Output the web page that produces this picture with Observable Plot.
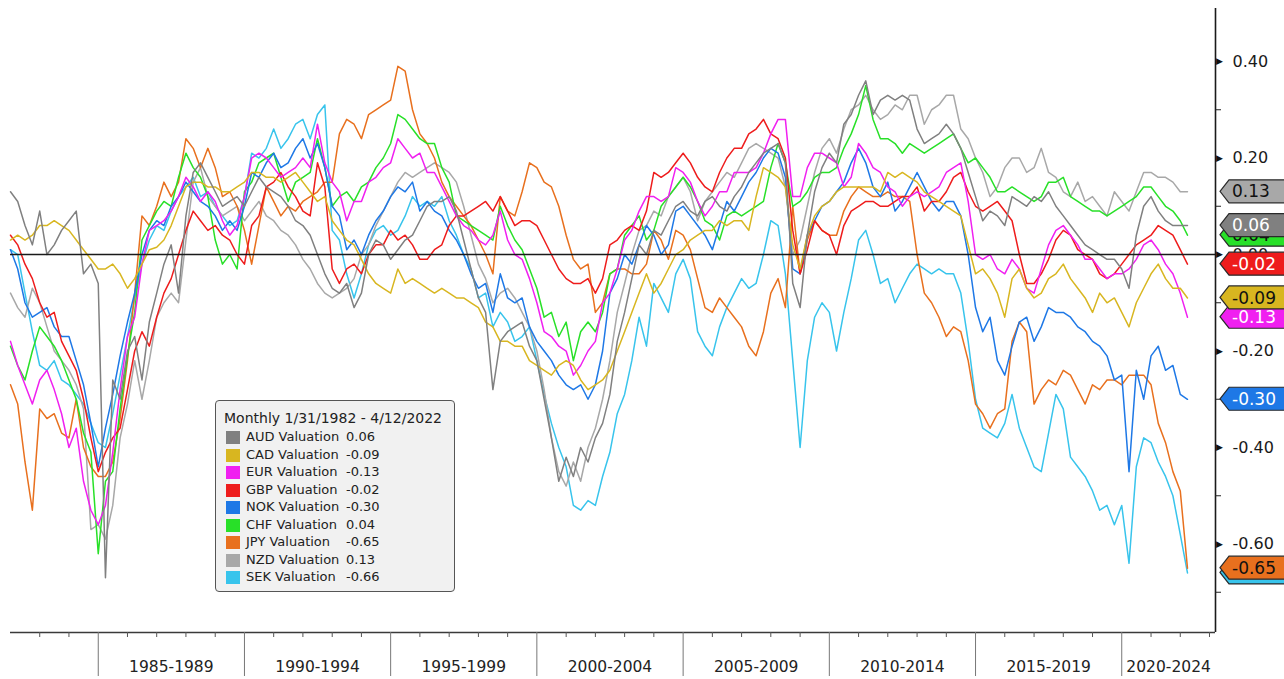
<!DOCTYPE html>
<html>
<head>
<meta charset="utf-8">
<script src="https://cdn.jsdelivr.net/npm/d3@7"></script>
<script src="https://cdn.jsdelivr.net/npm/@observablehq/plot@0.6"></script>
<style>
  html, body { margin: 0; padding: 0; background: #ffffff; }
  #wrap { position: relative; width: 1284px; height: 679px; overflow: hidden; }
  #legend { position: absolute; left: 215px; top: 400px; width: 238px; height: 190px;
    background: #f1f1f1; border: 1.5px solid #555; border-radius: 4px;
    font-family: "DejaVu Sans", sans-serif; font-size: 13px; color: #222; }
  #legend .title { position: absolute; left: 8px; top: 9px; white-space: nowrap; font-size: 14px; }
  #legend .row { position: absolute; left: 10px; height: 16px; white-space: nowrap; }
  #legend .sw { position: absolute; left: 0; top: 1px; width: 14px; height: 13px; }
  #legend .nm { position: absolute; left: 20px; top: -1px; }
  #legend .vl { position: absolute; left: 120px; top: -1px; }
</style>
</head>
<body>
<div id="wrap"></div>
<script>
// ---------- data ----------
const currencies = ["AUD", "CAD", "EUR", "GBP", "NOK", "CHF", "JPY", "NZD", "SEK"];
const seriesColors = ["#808080", "#d8b620", "#f020f0", "#ee1c1c", "#1e78e6", "#28e028", "#e8701e", "#a8a8a8", "#38c4ec"];
const tagTextColors = ["#ffffff", "#111111", "#ffffff", "#ffffff", "#ffffff", "#111111", "#111111", "#111111", "#111111"];
const lastValues = [0.06, -0.09, -0.13, -0.02, -0.30, 0.04, -0.65, 0.13, -0.66];
const legendTitle = "Monthly 1/31/1982 - 4/12/2022";
const firstQuarter = [1982, 0]; // quarterly samples starting Jan 1982
const majorTicks = [0.40, 0.20, 0.00, -0.20, -0.40, -0.60];
const minorTicks = [0.30, 0.10, -0.10, -0.30, -0.50, -0.70];
const groupStarts = [1985, 1990, 1995, 2000, 2005, 2010, 2015, 2020];
const groupLabels = ["1985-1989", "1990-1994", "1995-1999", "2000-2004", "2005-2009", "2010-2014", "2015-2019", "2020-2024"];

const aud = [
  0.13,0.11,0.06,0.02,0.09,0.00,0.02,0.05,
  0.07,0.09,-0.04,-0.02,-0.06,-0.67,-0.26,-0.30,
  -0.20,-0.17,-0.26,-0.14,-0.08,-0.02,0.02,-0.08,
  0.08,0.17,0.19,0.16,0.13,0.10,0.11,0.12,
  0.10,0.13,0.16,0.14,0.13,0.12,0.10,0.07,
  0.06,0.04,0.00,-0.04,-0.07,-0.08,-0.06,-0.11,
  -0.08,0.00,0.03,0.02,-0.01,0.01,0.03,0.04,
  0.07,0.10,0.11,0.11,0.12,0.09,0.03,-0.03,
  -0.09,-0.12,-0.28,-0.18,-0.16,-0.15,-0.14,-0.19,
  -0.22,-0.30,-0.38,-0.47,-0.42,-0.46,-0.40,-0.43,
  -0.38,-0.35,-0.29,-0.18,-0.12,-0.05,0.02,0.00,
  0.05,0.04,0.07,0.10,0.11,0.09,0.08,0.11,
  0.12,0.10,0.09,0.12,0.14,0.17,0.19,0.21,
  0.22,0.23,0.19,-0.06,-0.11,0.04,0.13,0.18,
  0.21,0.19,0.27,0.29,0.33,0.36,0.29,0.32,
  0.33,0.32,0.33,0.32,0.26,0.23,0.24,0.25,
  0.27,0.25,0.22,0.17,0.12,0.07,0.09,0.08,
  0.06,0.12,0.11,0.10,0.12,0.11,0.13,0.10,
  0.08,0.06,0.04,0.02,0.01,0.00,-0.01,-0.01,
  -0.03,-0.07,0.04,0.10,0.12,0.09,0.07,0.06,
  0.06,0.06];

const cad = [
  0.03,0.04,0.03,0.04,0.06,0.06,0.07,0.06,
  0.05,0.03,0.01,-0.01,-0.03,-0.03,-0.02,-0.04,
  -0.07,-0.05,-0.02,0.01,0.015,0.03,0.06,0.10,
  0.14,0.15,0.15,0.14,0.14,0.13,0.13,0.14,
  0.15,0.17,0.17,0.16,0.16,0.15,0.16,0.17,
  0.15,0.13,0.11,0.12,0.07,0.05,0.03,0.02,
  -0.01,-0.04,-0.06,-0.07,-0.08,-0.03,-0.06,-0.05,
  -0.06,-0.07,-0.08,-0.07,-0.08,-0.09,-0.09,-0.10,
  -0.11,-0.14,-0.15,-0.18,-0.18,-0.19,-0.19,-0.22,
  -0.23,-0.24,-0.25,-0.23,-0.22,-0.23,-0.26,-0.28,
  -0.27,-0.26,-0.24,-0.20,-0.16,-0.12,-0.08,-0.04,
  -0.08,-0.06,-0.03,0.00,0.01,0.03,0.04,0.05,
  0.05,0.07,0.06,0.07,0.07,0.05,0.12,0.18,
  0.17,0.16,0.14,0.02,-0.03,0.04,0.08,0.10,
  0.11,0.13,0.14,0.14,0.14,0.14,0.14,0.13,
  0.17,0.16,0.17,0.16,0.15,0.13,0.12,0.11,
  0.10,0.09,0.08,0.02,-0.04,-0.03,-0.05,-0.08,
  -0.13,-0.05,-0.03,-0.07,-0.09,-0.08,-0.05,-0.04,
  -0.02,-0.05,-0.07,-0.09,-0.12,-0.08,-0.10,-0.09,
  -0.12,-0.15,-0.10,-0.07,-0.04,-0.02,-0.05,-0.07,
  -0.07,-0.09];

const eur = [
  -0.18,-0.23,-0.27,-0.31,-0.26,-0.24,-0.28,-0.33,
  -0.40,-0.36,-0.47,-0.53,-0.56,-0.52,-0.41,-0.28,
  -0.17,-0.13,-0.02,0.05,0.06,0.07,0.09,0.12,
  0.16,0.14,0.11,0.13,0.11,0.07,0.04,0.06,
  0.12,0.20,0.21,0.20,0.18,0.16,0.17,0.18,
  0.20,0.18,0.27,0.19,0.15,0.13,0.07,0.11,
  0.11,0.15,0.16,0.18,0.19,0.24,0.22,0.20,
  0.21,0.17,0.17,0.14,0.11,0.08,0.06,0.05,
  0.03,0.02,0.04,0.09,0.03,0.00,-0.01,-0.05,
  -0.10,-0.16,-0.17,-0.19,-0.20,-0.25,-0.23,-0.20,
  -0.18,-0.10,-0.08,-0.03,0.03,0.05,0.09,0.12,
  0.12,0.11,0.12,0.18,0.17,0.15,0.11,0.08,
  0.10,0.13,0.13,0.17,0.17,0.17,0.18,0.21,
  0.25,0.28,0.28,0.12,0.12,0.18,0.21,0.21,
  0.20,0.19,0.14,0.16,0.23,0.21,0.18,0.17,
  0.14,0.13,0.10,0.12,0.13,0.12,0.13,0.14,
  0.17,0.18,0.19,0.11,0.00,-0.01,0.00,-0.03,
  -0.04,-0.01,-0.03,-0.07,-0.08,-0.03,0.02,0.05,
  0.06,0.04,0.02,-0.01,-0.01,-0.03,-0.05,-0.04,
  -0.04,-0.03,-0.01,0.02,0.03,0.01,-0.02,-0.04,
  -0.08,-0.13];

const gbp = [
  0.04,0.02,-0.02,-0.05,-0.10,-0.13,-0.12,-0.18,
  -0.21,-0.24,-0.30,-0.38,-0.45,-0.41,-0.38,-0.36,
  -0.28,-0.20,-0.16,-0.19,-0.13,-0.08,-0.05,0.00,
  0.05,0.09,0.07,0.05,0.06,0.04,0.03,0.00,
  -0.02,0.06,0.08,0.14,0.15,0.17,0.14,0.12,
  0.09,0.08,0.19,0.14,-0.03,-0.06,-0.03,-0.02,
  -0.04,0.00,0.02,0.02,0.05,0.03,0.04,0.02,
  -0.01,-0.01,0.01,0.02,0.06,0.08,0.08,0.09,
  0.10,0.11,0.09,0.12,0.09,0.06,0.07,0.07,
  0.06,0.03,0.00,-0.03,-0.05,-0.06,-0.06,-0.05,
  -0.08,-0.05,0.02,0.03,0.05,0.06,0.05,0.09,
  0.17,0.16,0.17,0.19,0.21,0.19,0.16,0.14,
  0.13,0.17,0.20,0.22,0.22,0.25,0.26,0.28,
  0.25,0.24,0.20,0.05,-0.04,0.01,0.07,0.05,
  0.04,0.00,0.06,0.09,0.10,0.11,0.11,0.10,
  0.10,0.11,0.12,0.12,0.14,0.09,0.11,0.11,
  0.13,0.16,0.17,0.13,0.10,0.09,0.10,0.11,
  0.09,0.07,0.00,-0.06,-0.06,-0.04,-0.01,0.03,
  0.05,0.04,0.01,0.00,-0.01,-0.04,-0.05,-0.04,
  -0.02,0.00,0.02,0.03,0.04,0.06,0.05,0.04,
  0.01,-0.02];

const nok = [
  0.01,-0.03,-0.10,-0.13,-0.12,-0.11,-0.15,-0.17,
  -0.17,-0.22,-0.27,-0.35,-0.44,-0.36,-0.29,-0.21,
  -0.14,-0.08,0.00,0.05,0.07,0.06,0.10,0.12,
  0.15,0.13,0.11,0.10,0.08,0.05,0.07,0.05,
  0.10,0.17,0.16,0.19,0.21,0.18,0.19,0.22,
  0.24,0.20,0.23,0.18,0.10,0.08,0.01,0.03,
  0.00,0.04,0.07,0.09,0.12,0.14,0.13,0.15,
  0.09,0.11,0.09,0.08,0.05,0.03,0.00,-0.04,
  -0.07,-0.06,-0.12,-0.04,-0.09,-0.10,-0.09,-0.15,
  -0.18,-0.20,-0.22,-0.25,-0.27,-0.28,-0.27,-0.30,
  -0.27,-0.20,-0.08,-0.05,0.00,-0.02,0.02,0.06,
  0.04,0.00,0.02,0.09,0.10,0.08,0.06,0.04,
  0.01,0.06,0.11,0.09,0.12,0.15,0.17,0.20,
  0.22,0.21,0.16,-0.03,-0.04,0.04,0.07,0.10,
  0.11,0.13,0.15,0.19,0.22,0.19,0.14,0.12,
  0.15,0.09,0.11,0.14,0.17,0.14,0.11,0.09,
  0.11,0.11,0.08,0.00,-0.11,-0.16,-0.13,-0.22,
  -0.25,-0.19,-0.14,-0.13,-0.18,-0.15,-0.11,-0.12,
  -0.12,-0.13,-0.15,-0.16,-0.18,-0.19,-0.21,-0.26,
  -0.25,-0.45,-0.24,-0.30,-0.21,-0.19,-0.24,-0.23,
  -0.29,-0.30];

const chf = [
  -0.19,-0.23,-0.26,-0.20,-0.15,-0.17,-0.19,-0.22,
  -0.26,-0.30,-0.37,-0.41,-0.62,-0.47,-0.45,-0.32,
  -0.21,-0.12,0.03,0.06,0.09,0.11,0.10,0.16,
  0.21,0.18,0.16,0.12,0.03,-0.02,0.00,-0.03,
  0.13,0.15,0.19,0.20,0.21,0.16,0.11,0.15,
  0.16,0.17,0.24,0.18,0.10,0.12,0.13,0.11,
  0.14,0.15,0.18,0.20,0.23,0.29,0.28,0.26,
  0.24,0.23,0.23,0.18,0.15,0.08,0.07,0.06,
  0.05,0.04,0.03,0.10,0.06,0.03,0.01,-0.03,
  -0.07,-0.13,-0.12,-0.17,-0.14,-0.22,-0.16,-0.14,
  -0.16,-0.12,-0.04,-0.03,0.04,0.06,0.08,0.03,
  0.05,0.10,0.12,0.14,0.16,0.14,0.11,0.07,
  0.06,0.03,0.08,0.09,0.08,0.09,0.10,0.11,
  0.18,0.23,0.19,0.10,0.11,0.13,0.16,0.17,
  0.17,0.18,0.22,0.25,0.29,0.35,0.28,0.24,
  0.24,0.23,0.21,0.23,0.22,0.21,0.22,0.23,
  0.24,0.25,0.22,0.19,0.20,0.18,0.16,0.13,
  0.13,0.14,0.13,0.12,0.11,0.12,0.15,0.15,
  0.16,0.12,0.11,0.10,0.09,0.09,0.08,0.09,
  0.10,0.11,0.12,0.14,0.14,0.12,0.10,0.09,
  0.07,0.04];

const jpy = [
  -0.27,-0.31,-0.43,-0.53,-0.32,-0.34,-0.33,-0.37,
  -0.38,-0.30,-0.40,-0.44,-0.46,-0.46,-0.43,-0.34,
  -0.22,-0.08,0.08,0.06,0.10,0.15,0.12,0.15,
  0.24,0.22,0.18,0.22,0.18,0.12,0.13,0.10,
  0.05,-0.02,0.06,0.14,0.11,0.08,0.10,0.09,
  0.11,0.12,0.13,0.15,0.15,0.25,0.28,0.27,
  0.24,0.29,0.30,0.31,0.32,0.39,0.38,0.30,
  0.25,0.23,0.20,0.15,0.12,0.10,0.08,0.06,
  0.03,0.00,-0.04,0.12,0.09,0.08,0.13,0.19,
  0.18,0.15,0.14,0.10,0.04,-0.01,-0.03,-0.02,
  -0.12,-0.10,-0.04,-0.03,-0.03,-0.04,-0.04,-0.02,
  0.05,0.03,-0.01,0.05,0.04,0.01,-0.05,-0.11,
  -0.12,-0.09,-0.11,-0.13,-0.15,-0.19,-0.21,-0.16,
  -0.08,-0.05,-0.11,0.10,-0.04,0.03,0.07,0.05,
  0.04,0.04,0.09,0.12,0.14,0.13,0.12,0.12,
  0.13,0.12,0.12,0.11,0.00,-0.08,-0.10,-0.13,
  -0.17,-0.15,-0.16,-0.22,-0.31,-0.33,-0.36,-0.33,
  -0.32,-0.18,-0.14,-0.16,-0.31,-0.28,-0.26,-0.27,
  -0.24,-0.25,-0.28,-0.31,-0.27,-0.28,-0.26,-0.26,
  -0.27,-0.25,-0.25,-0.25,-0.27,-0.35,-0.39,-0.45,
  -0.49,-0.65];

const nzd = [
  -0.08,-0.11,-0.13,-0.07,-0.10,-0.15,-0.20,-0.22,
  -0.24,-0.27,-0.32,-0.57,-0.56,-0.59,-0.52,-0.38,
  -0.31,-0.22,-0.30,-0.22,-0.13,-0.10,-0.08,-0.10,
  0.03,0.15,0.18,0.12,0.10,0.08,0.09,0.10,
  0.07,0.09,0.11,0.08,0.07,0.05,0.04,0.02,
  -0.01,-0.03,-0.06,-0.08,-0.09,-0.08,-0.07,-0.05,
  0.00,0.02,0.06,0.09,0.12,0.15,0.17,0.16,
  0.17,0.18,0.19,0.18,0.17,0.15,0.10,0.04,
  -0.02,-0.05,-0.10,-0.08,-0.07,-0.09,-0.12,-0.15,
  -0.20,-0.28,-0.38,-0.45,-0.48,-0.43,-0.47,-0.40,
  -0.36,-0.30,-0.22,-0.12,-0.06,0.00,0.05,0.06,
  0.09,0.08,0.12,0.14,0.16,0.13,0.07,0.11,
  0.13,0.15,0.17,0.16,0.19,0.22,0.23,0.22,
  0.21,0.20,0.14,0.00,0.03,0.10,0.17,0.22,
  0.24,0.21,0.26,0.30,0.31,0.33,0.30,0.28,
  0.29,0.31,0.30,0.33,0.33,0.27,0.30,0.31,
  0.33,0.33,0.26,0.24,0.20,0.17,0.12,0.14,
  0.18,0.20,0.20,0.17,0.18,0.22,0.17,0.16,
  0.13,0.12,0.15,0.11,0.12,0.10,0.08,0.13,
  0.11,0.09,0.13,0.17,0.17,0.16,0.16,0.15,
  0.13,0.13];

const sek = [
  0.01,0.00,-0.08,-0.16,-0.23,-0.24,-0.22,-0.26,
  -0.27,-0.29,-0.31,-0.35,-0.39,-0.40,-0.33,-0.25,
  -0.17,-0.09,-0.02,0.03,0.06,0.05,0.09,0.12,
  0.14,0.16,0.12,0.13,0.10,0.08,0.06,0.07,
  0.12,0.21,0.20,0.22,0.26,0.22,0.24,0.27,
  0.28,0.24,0.29,0.31,0.05,0.03,-0.04,-0.09,
  -0.04,0.02,0.05,0.06,0.04,0.05,0.08,0.12,
  0.10,0.11,0.10,0.12,0.07,0.04,0.00,-0.03,
  -0.09,-0.08,-0.15,-0.12,-0.14,-0.18,-0.17,-0.15,
  -0.22,-0.29,-0.35,-0.40,-0.44,-0.52,-0.53,-0.51,
  -0.52,-0.46,-0.41,-0.33,-0.29,-0.22,-0.13,-0.19,
  -0.06,-0.09,-0.12,-0.04,-0.01,-0.05,-0.16,-0.19,
  -0.21,-0.15,-0.11,-0.08,-0.05,-0.07,-0.06,0.00,
  0.07,0.06,-0.04,-0.22,-0.40,-0.22,-0.13,-0.10,
  -0.12,-0.20,-0.12,-0.05,0.03,0.05,0.00,-0.06,
  -0.05,-0.10,-0.07,-0.04,-0.02,-0.03,-0.04,-0.03,
  -0.04,-0.04,-0.08,-0.18,-0.30,-0.36,-0.37,-0.38,
  -0.35,-0.29,-0.36,-0.40,-0.44,-0.45,-0.37,-0.29,
  -0.32,-0.42,-0.44,-0.46,-0.49,-0.53,-0.52,-0.56,
  -0.52,-0.64,-0.44,-0.38,-0.39,-0.43,-0.46,-0.50,
  -0.58,-0.66];

const seriesValues = [aud, cad, eur, gbp, nok, chf, jpy, nzd, sek];

// ---------- layout ----------
const W = 1284, H = 679;
const mL = 10, mR = 69, mT = 10, mB = 47;
const yMin = -0.7834, yMax = 0.5057;
const xStart = Date.UTC(1982, 0, 1), xEnd = Date.UTC(2023, 2, 17);
const yPerPx = (yMax - yMin) / (H - mT - mB);
const xPerPx = (xEnd - xStart) / (W - mL - mR);
const FONT = "DejaVu Sans, sans-serif";

const dates = aud.map((_, i) => new Date(Date.UTC(firstQuarter[0], firstQuarter[1] + 3 * i, 1)));
const yearTicks = d3.range(1983, 2024).filter(y => !groupStarts.includes(y)).map(y => new Date(Date.UTC(y, 0, 1)));
const groups = groupStarts.map((s, i) => {
  const a = Date.UTC(s, 0, 1), b = Math.min(Date.UTC(s + 5, 0, 1), xEnd);
  return { start: new Date(a), mid: new Date((a + b) / 2), label: groupLabels[i] };
});

const drawOrder = d3.range(currencies.length).reverse();
const lineMarks = drawOrder.map(k => Plot.lineY(seriesValues[k], {
  x: (d, i) => dates[i], y: d => d, stroke: seriesColors[k], strokeWidth: 1.5, strokeLinejoin: "round"
}));

const axisEnd = () => new Date(xEnd);

const chart = Plot.plot({
  width: W, height: H,
  marginLeft: mL, marginRight: mR, marginTop: mT, marginBottom: mB,
  style: { background: "transparent", overflow: "visible", fontFamily: FONT },
  x: { type: "utc", domain: [new Date(xStart), new Date(xEnd)], axis: null },
  y: { domain: [yMin, yMax], axis: null },
  marks: [
    ...lineMarks,
    Plot.ruleY([0], { stroke: "#1a1a1a", strokeWidth: 1.4 }),
    // bottom axis line and right axis line
    Plot.ruleY([yMin], { stroke: "#3a3a3a", strokeWidth: 1.6 }),
    Plot.ruleX([new Date(xEnd)], { y1: yMin, y2: yMax + 2 * yPerPx, stroke: "#1a1a1a", strokeWidth: 1.6 }),
    // year ticks
    Plot.ruleX(yearTicks, { x: d => d, y1: yMin, y2: yMin - 5 * yPerPx, stroke: "#555", strokeWidth: 1 }),
    // group separators
    Plot.ruleX(groups, { x: "start", y1: yMin, y2: yMin - 44 * yPerPx, stroke: "#777", strokeWidth: 1 }),
    Plot.text(groups, { x: "mid", y: () => yMin - 35 * yPerPx, text: "label", fontSize: 15.5, fontFamily: FONT, fill: "#222" }),
    // right axis
    Plot.ruleY(minorTicks, { y: d => d, x1: axisEnd, x2: () => new Date(xEnd + 6 * xPerPx), stroke: "#222", strokeWidth: 1 }),
    Plot.text(majorTicks, { x: axisEnd, y: d => d, text: () => "\u25B6", dx: 4, fontSize: 9, fill: "#111", fontFamily: FONT }),
    Plot.text(majorTicks, { x: axisEnd, y: d => d, text: d => d.toFixed(2), dx: 17, textAnchor: "start", fontSize: 16, fill: "#1a1a1a", fontFamily: FONT })
  ]
});

// value tags at the right edge, placed with the chart's y scale
const yScale = chart.scale("y");
const xScale = chart.scale("x");
const axisX = xScale.apply(new Date(xEnd));
const tags = d3.select(chart).append("g").attr("text-anchor", "start");
drawOrder.forEach(k => {
  const yc = yScale.apply(lastValues[k]);
  const tip = axisX + 5, body = axisX + 14, right = W + 5, hh = 11.5;
  tags.append("path")
    .attr("d", `M${tip},${yc} L${body},${yc - hh} L${right},${yc - hh} L${right},${yc + hh} L${body},${yc + hh} Z`)
    .attr("fill", seriesColors[k]).attr("stroke", "#2a2a2a").attr("stroke-width", 1.2);
  tags.append("text")
    .attr("x", body + 3).attr("y", yc).attr("dy", "0.36em")
    .attr("text-anchor", "start")
    .attr("font-family", FONT).attr("font-size", 17)
    .attr("fill", tagTextColors[k])
    .text(lastValues[k].toFixed(2));
});

const wrap = document.getElementById("wrap");
wrap.appendChild(chart);

// legend box
const legend = document.createElement("div");
legend.id = "legend";
const title = document.createElement("div");
title.className = "title";
title.textContent = legendTitle;
legend.appendChild(title);
currencies.forEach((c, k) => {
  const row = document.createElement("div");
  row.className = "row";
  row.style.top = (29 + k * 17.5) + "px";
  const sw = document.createElement("div"); sw.className = "sw"; sw.style.background = seriesColors[k];
  const nm = document.createElement("div"); nm.className = "nm"; nm.textContent = c + " Valuation";
  const vl = document.createElement("div"); vl.className = "vl"; vl.textContent = lastValues[k].toFixed(2);
  row.appendChild(sw); row.appendChild(nm); row.appendChild(vl);
  legend.appendChild(row);
});
wrap.appendChild(legend);
</script>
</body>
</html>
